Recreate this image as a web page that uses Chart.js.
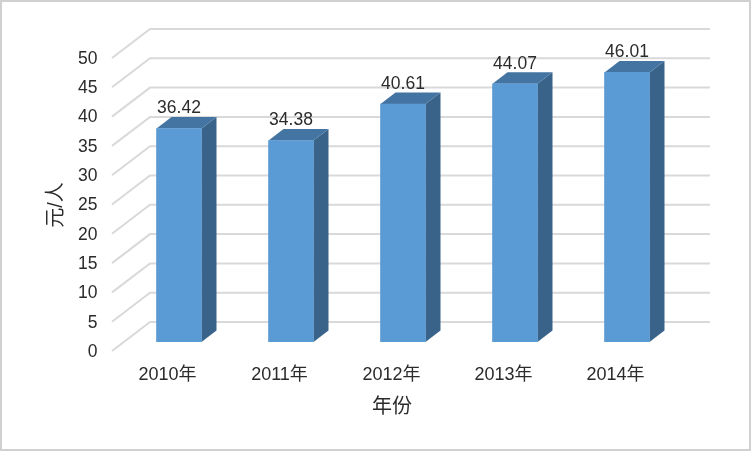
<!DOCTYPE html>
<html><head><meta charset="utf-8">
<style>html,body{margin:0;padding:0;background:#fff}canvas{display:block}</style>
<script src="https://cdn.jsdelivr.net/npm/chart.js@4"></script></head>
<body><canvas id="c" width="751" height="451"></canvas>
<script>
const categories = ["2010年","2011年","2012年","2013年","2014年"];
const values = [36.42,34.38,40.61,44.07,46.01];
const valueLabels = ["36.42","34.38","40.61","44.07","46.01"];
const yTitle = "元/人";
const xTitle = "年份";
const FONT = '"Liberation Sans","Noto Sans CJK SC",sans-serif';
const TEXT = '#2b2b2b';
const depthX = 15, depthY = 11.5;
const wallUp = 20, floorDown = 9, wallLeft = 150, wallRight = 710, floorLeft = 112;

const scene = {
  id:'scene',
  beforeDraw(chart){
    const {ctx,width,height}=chart;
    ctx.save();
    ctx.strokeStyle='#d0d0d0';ctx.lineWidth=2;
    ctx.strokeRect(1,1,width-2,height-2);
    ctx.restore();
  },
  beforeDatasetsDraw(chart){
    const {ctx}=chart, y=chart.scales.y;
    ctx.save();
    ctx.strokeStyle='#d9d9d9';ctx.lineWidth=2;
    y.ticks.forEach(t=>{
      const p=y.getPixelForValue(t.value);
      ctx.beginPath();
      ctx.moveTo(floorLeft,p+floorDown);
      ctx.lineTo(wallLeft,p-wallUp);
      ctx.lineTo(wallRight,p-wallUp);
      ctx.stroke();
    });
    ctx.restore();
    const meta=chart.getDatasetMeta(0);
    meta.data.forEach(b=>{
      const l=b.x-b.width/2,r=b.x+b.width/2,t=b.y,bt=b.base;
      ctx.fillStyle='#3A638A';
      ctx.beginPath();ctx.moveTo(r,t);ctx.lineTo(r+depthX,t-depthY);ctx.lineTo(r+depthX,bt-depthY);ctx.lineTo(r,bt);ctx.closePath();ctx.fill();
      ctx.fillStyle='#4474A1';
      ctx.beginPath();ctx.moveTo(l,t);ctx.lineTo(l+depthX,t-depthY);ctx.lineTo(r+depthX,t-depthY);ctx.lineTo(r,t);ctx.closePath();ctx.fill();
    });
  },
  afterDraw(chart){
    const {ctx}=chart,meta=chart.getDatasetMeta(0);
    ctx.save();
    ctx.fillStyle=TEXT;ctx.textAlign='center';ctx.textBaseline='middle';
    ctx.font='17.5px '+FONT;
    meta.data.forEach((b,i)=>ctx.fillText(valueLabels[i],b.x,b.y-20));
    ctx.font='20px '+FONT;
    ctx.fillText(xTitle,392,407.5);
    ctx.translate(56.5,205);ctx.rotate(-Math.PI/2);
    ctx.fillText(yTitle,0,0);
    ctx.restore();
  }
};

new Chart(document.getElementById('c'),{
  type:'bar',
  data:{labels:categories,datasets:[{data:values,backgroundColor:'#5B9BD5',barThickness:45,borderWidth:0}]},
  plugins:[scene],
  options:{
    responsive:false,animation:false,devicePixelRatio:1,
    layout:{padding:{left:0,right:68,top:49,bottom:0}},
    plugins:{legend:{display:false},tooltip:{enabled:false},title:{display:false}},
    scales:{
      x:{
        grid:{display:false},border:{display:false},
        afterFit(s){s.height=109;},
        ticks:{color:TEXT,font:{family:FONT,size:18},labelOffset:-11.5,padding:14,maxRotation:0}
      },
      y:{
        min:0,max:50,
        grid:{display:false},border:{display:false},
        afterFit(s){s.width=123;},
        ticks:{stepSize:5,color:TEXT,font:{family:FONT,size:17.5},labelOffset:10,padding:17.5}
      }
    }
  }
});
</script></body></html>
